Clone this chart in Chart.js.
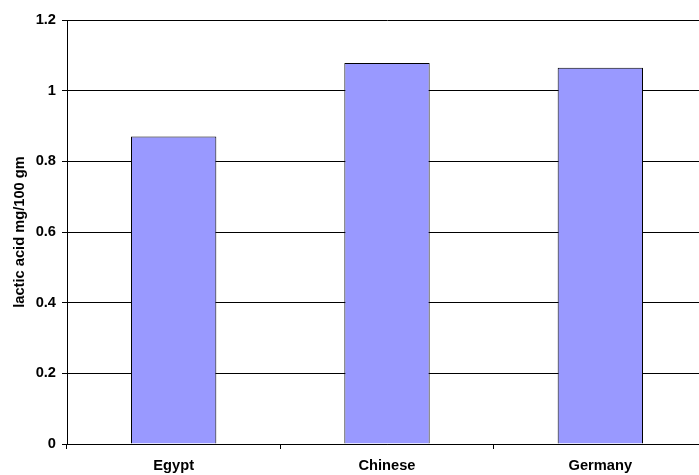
<!DOCTYPE html>
<html>
<head>
<meta charset="utf-8">
<script src="https://cdn.jsdelivr.net/npm/chart.js@4"></script>
<style>
  html, body { margin: 0; padding: 0; overflow: hidden; background: #fff; }
  #wrap { width: 707px; height: 475px; position: relative; }
</style>
</head>
<body>
<div id="wrap"><canvas id="barChart"></canvas></div>
<script>
const categories = ["Egypt", "Chinese", "Germany"];
const lacticValues = [0.87, 1.078, 1.065];
const yTicks = [0, 0.2, 0.4, 0.6, 0.8, 1, 1.2];

const ctx = document.getElementById("barChart").getContext("2d");
const font = { family: "Liberation Sans, Arial, sans-serif", size: 14.67, weight: "bold" };

const data = {
	labels: categories,
	datasets: [
		{
			data: lacticValues,
			backgroundColor: "#9999FF",
			borderColor: "#000000",
			borderWidth: 1,
			barPercentage: 0.4,
			categoryPercentage: 1,
		},
	],
};

const config = {
	type: "bar",
	data: data,
	options: {
		responsive: true,
		maintainAspectRatio: false,
		animation: false,
		layout: { padding: { top: 20, left: 0, right: 0, bottom: 0 } },
		plugins: {
			legend: { display: false },
			tooltip: { enabled: false },
		},
		scales: {
			x: {
				grid: { drawOnChartArea: false, color: "#000", tickLength: 5, offset: true },
				border: { color: "#000" },
				ticks: { color: "#000", font: font, padding: 8 },
				afterFit: (s) => { s.height = 31; },
			},
			y: {
				min: 0,
				max: 1.2,
				afterBuildTicks: (s) => { s.ticks = yTicks.map((v) => ({ value: v })); },
				grid: { color: "#000", tickLength: 5 },
				border: { color: "#000" },
				ticks: {
					color: "#000",
					font: font,
					padding: 6,
					callback: (v) => String(Math.round(v * 10) / 10),
				},
				title: {
					display: true,
					text: "lactic acid mg/100 gm",
					color: "#000",
					font: font,
					padding: { top: 11, bottom: 0 },
				},
				afterFit: (s) => { s.width = 67; },
			},
		},
	},
};

const barChart = new Chart(ctx, config);
</script>
</body>
</html>
